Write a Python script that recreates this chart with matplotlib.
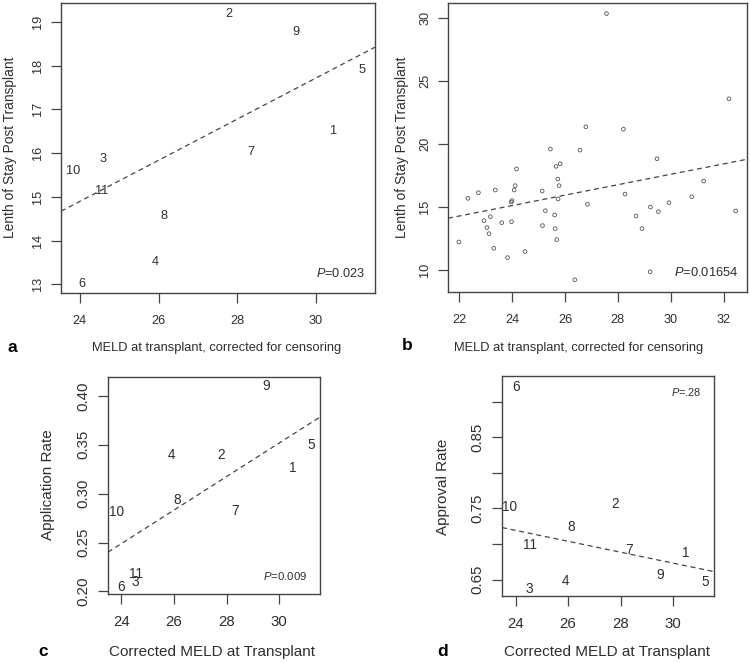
import matplotlib
matplotlib.use('Agg')
import matplotlib.pyplot as plt
import numpy as np

plt.rcParams['font.family'] = ['Liberation Sans', 'DejaVu Sans']
plt.rcParams['mathtext.fontset'] = 'custom'
plt.rcParams['mathtext.it'] = 'Liberation Sans:italic'
plt.rcParams['mathtext.rm'] = 'Liberation Sans'

# ---- data ----
# panel a: center label, corrected MELD vs length of stay
centers = ['1', '2', '3', '4', '5', '6', '7', '8', '9', '10', '11']
meld_a = [30.45, 27.8, 24.6, 25.92, 31.17, 24.05, 28.34, 26.15, 29.5, 23.82, 24.55]
los_a = [16.5, 19.17, 15.87, 13.5, 17.9, 13.0, 16.02, 14.55, 18.77, 15.58, 15.13]
fit_a = (3.615, 0.47)  # intercept, slope

# panel b: individual patients
meld_b = [27.57, 32.2, 26.79, 28.21, 25.45, 26.57, 29.48, 25.82, 25.66, 24.17,
          25.73, 31.24, 24.12, 25.78, 22.73, 23.37, 24.08, 25.14, 28.27, 22.33,
          25.74, 30.79, 24.0, 23.97, 26.85, 29.93, 29.23, 25.26, 29.53, 32.45,
          25.61, 28.69, 23.18, 22.94, 23.61, 23.98, 25.15, 23.05, 25.63, 28.91,
          23.13, 25.69, 21.99, 23.31, 24.49, 23.83, 29.22, 26.37]
los_b = [30.32, 23.56, 21.34, 21.15, 19.57, 19.49, 18.8, 18.41, 18.2, 17.99,
         17.19, 17.03, 16.67, 16.67, 16.11, 16.32, 16.32, 16.24, 16.0, 15.66,
         15.61, 15.79, 15.48, 15.37, 15.19, 15.32, 14.97, 14.68, 14.61, 14.66,
         14.34, 14.26, 14.21, 13.89, 13.73, 13.81, 13.5, 13.34, 13.26, 13.26,
         12.86, 12.39, 12.2, 11.7, 11.44, 10.96, 9.83, 9.2]
fit_b = (5.15, 0.414)

# panel c: application rate
meld_c = [30.5, 27.78, 24.55, 25.91, 31.2, 24.01, 28.33, 26.14, 29.5, 23.81, 24.55]
app_c = [0.326, 0.34, 0.2095, 0.34, 0.35, 0.204, 0.282, 0.294, 0.41, 0.281, 0.218]
fit_c = (-0.1636, 0.01718)

# panel d: approval rate
meld_d = [30.49, 27.78, 24.53, 25.91, 31.21, 24.03, 28.33, 26.12, 29.5, 23.77, 24.53]
appr_d = [0.688, 0.756, 0.637, 0.648, 0.647, 0.921, 0.691, 0.724, 0.657, 0.752, 0.699]
fit_d = (0.903, -0.00766)

W, H = 750, 663
TXT = '#2e2e2e'
EDGE = '#444444'

fig = plt.figure(figsize=(W / 100, H / 100), dpi=100)


def px_axes(x0, y0, x1, y1):
    return fig.add_axes([x0 / W, 1 - y1 / H, (x1 - x0) / W, (y1 - y0) / H])


def style(ax, tsize, pad_x, pad_y):
    for s in ax.spines.values():
        s.set_color(EDGE)
        s.set_linewidth(1.0)
    ax.tick_params(direction='out', length=7, width=0.9, color=EDGE,
                   labelcolor=TXT, labelsize=tsize)
    ax.tick_params(axis='x', pad=pad_x)
    ax.tick_params(axis='y', pad=pad_y)
    for lab in ax.get_yticklabels():
        lab.set_rotation(90)
        lab.set_va('center')


def fit_line(ax, fit, xlim):
    xs = np.array(xlim)
    ax.plot(xs, fit[0] + fit[1] * xs, color='#444444', lw=0.9,
            linestyle=(0, (4, 3)))


def ftext(x, y, s, **kw):
    kw.setdefault('color', TXT)
    fig.text(x / W, 1 - y / H, s, **kw)


# ---- panel a ----
ax = px_axes(61, 3, 375, 293)
xl = (23.52, 31.5)
ax.set_xlim(*xl)
ax.set_ylim(12.8, 19.43)
ax.set_xticks([24, 26, 28, 30])
ax.set_yticks([13, 14, 15, 16, 17, 18, 19])
fit_line(ax, fit_a, xl)
for lab, x, y in zip(centers, meld_a, los_a):
    ax.text(x, y, lab, ha='center', va='center', fontsize=9.2, color=TXT)
ax.text(0.97, 0.045, '$P$=0.023', transform=ax.transAxes,
        ha='right', va='bottom', fontsize=9.2, color=TXT)
style(ax, 9.2, 9, 5)

# ---- panel b ----
ax = px_axes(448, 3, 747, 292)
xl = (21.58, 32.88)
ax.set_xlim(*xl)
ax.set_ylim(8.23, 31.16)
ax.set_xticks([22, 24, 26, 28, 30, 32])
ax.set_yticks([10, 15, 20, 25, 30])
fit_line(ax, fit_b, xl)
ax.scatter(meld_b, los_b, s=7, facecolors='none', edgecolors='#555555',
           linewidths=0.6, zorder=3)
ax.text(0.97, 0.045, '$P$=0.01654', transform=ax.transAxes,
        ha='right', va='bottom', fontsize=9.3, color=TXT)
style(ax, 9.2, 9, 5)

# ---- panel c ----
ax = px_axes(108, 377, 320, 594)
xl = (23.5, 31.55)
ax.set_xlim(*xl)
ax.set_ylim(0.1973, 0.4194)
ax.set_xticks([24, 26, 28, 30])
ax.set_yticks([0.20, 0.25, 0.30, 0.35, 0.40])
ax.set_yticklabels(['0.20', '0.25', '0.30', '0.35', '0.40'])
fit_line(ax, fit_c, xl)
for lab, x, y in zip(centers, meld_c, app_c):
    ax.text(x, y, lab, ha='center', va='center', fontsize=9.8, color=TXT)
ax.text(0.94, 0.055, '$P$=0.009', transform=ax.transAxes,
        ha='right', va='bottom', fontsize=8.2, color=TXT)
style(ax, 10.8, 8, 6)

# ---- panel d ----
ax = px_axes(502, 376, 714, 596)
xl = (23.48, 31.56)
ax.set_xlim(*xl)
ax.set_ylim(0.627, 0.936)
ax.set_xticks([24, 26, 28, 30])
ax.set_yticks([0.65, 0.70, 0.75, 0.80, 0.85, 0.90])
ax.set_yticklabels(['0.65', '', '0.75', '', '0.85', ''])
fit_line(ax, fit_d, xl)
for lab, x, y in zip(centers, meld_d, appr_d):
    ax.text(x, y, lab, ha='center', va='center', fontsize=9.8, color=TXT)
ax.text(0.94, 0.9, '$P$=.28', transform=ax.transAxes,
        ha='right', va='bottom', fontsize=7.9, color=TXT)
style(ax, 10.8, 8, 6)

# ---- axis titles and panel letters ----
ftext(10, 147, 'Lenth of Stay Post Transplant', rotation=90, ha='center',
      va='center', fontsize=9.9)
ftext(402, 147, 'Lenth of Stay Post Transplant', rotation=90, ha='center',
      va='center', fontsize=9.9)
ftext(217, 348, 'MELD at transplant, corrected for censoring', ha='center',
      va='center', fontsize=9.3)
ftext(579, 348, 'MELD at transplant, corrected for censoring', ha='center',
      va='center', fontsize=9.3)
ftext(48, 485, 'Application Rate', rotation=90, ha='center', va='center',
      fontsize=11)
ftext(443, 487, 'Approval Rate', rotation=90, ha='center', va='center',
      fontsize=11)
ftext(212, 652, 'Corrected MELD at Transplant', ha='center', va='center',
      fontsize=11)
ftext(607, 652, 'Corrected MELD at Transplant', ha='center', va='center',
      fontsize=11)
for letter, x, y in [('a', 12, 348), ('b', 407, 345), ('c', 43, 652), ('d', 443, 652)]:
    ftext(x, y, letter, ha='center', va='center', fontsize=12.5,
          fontweight='bold', color='black')

fig.savefig('out.png', dpi=100)
